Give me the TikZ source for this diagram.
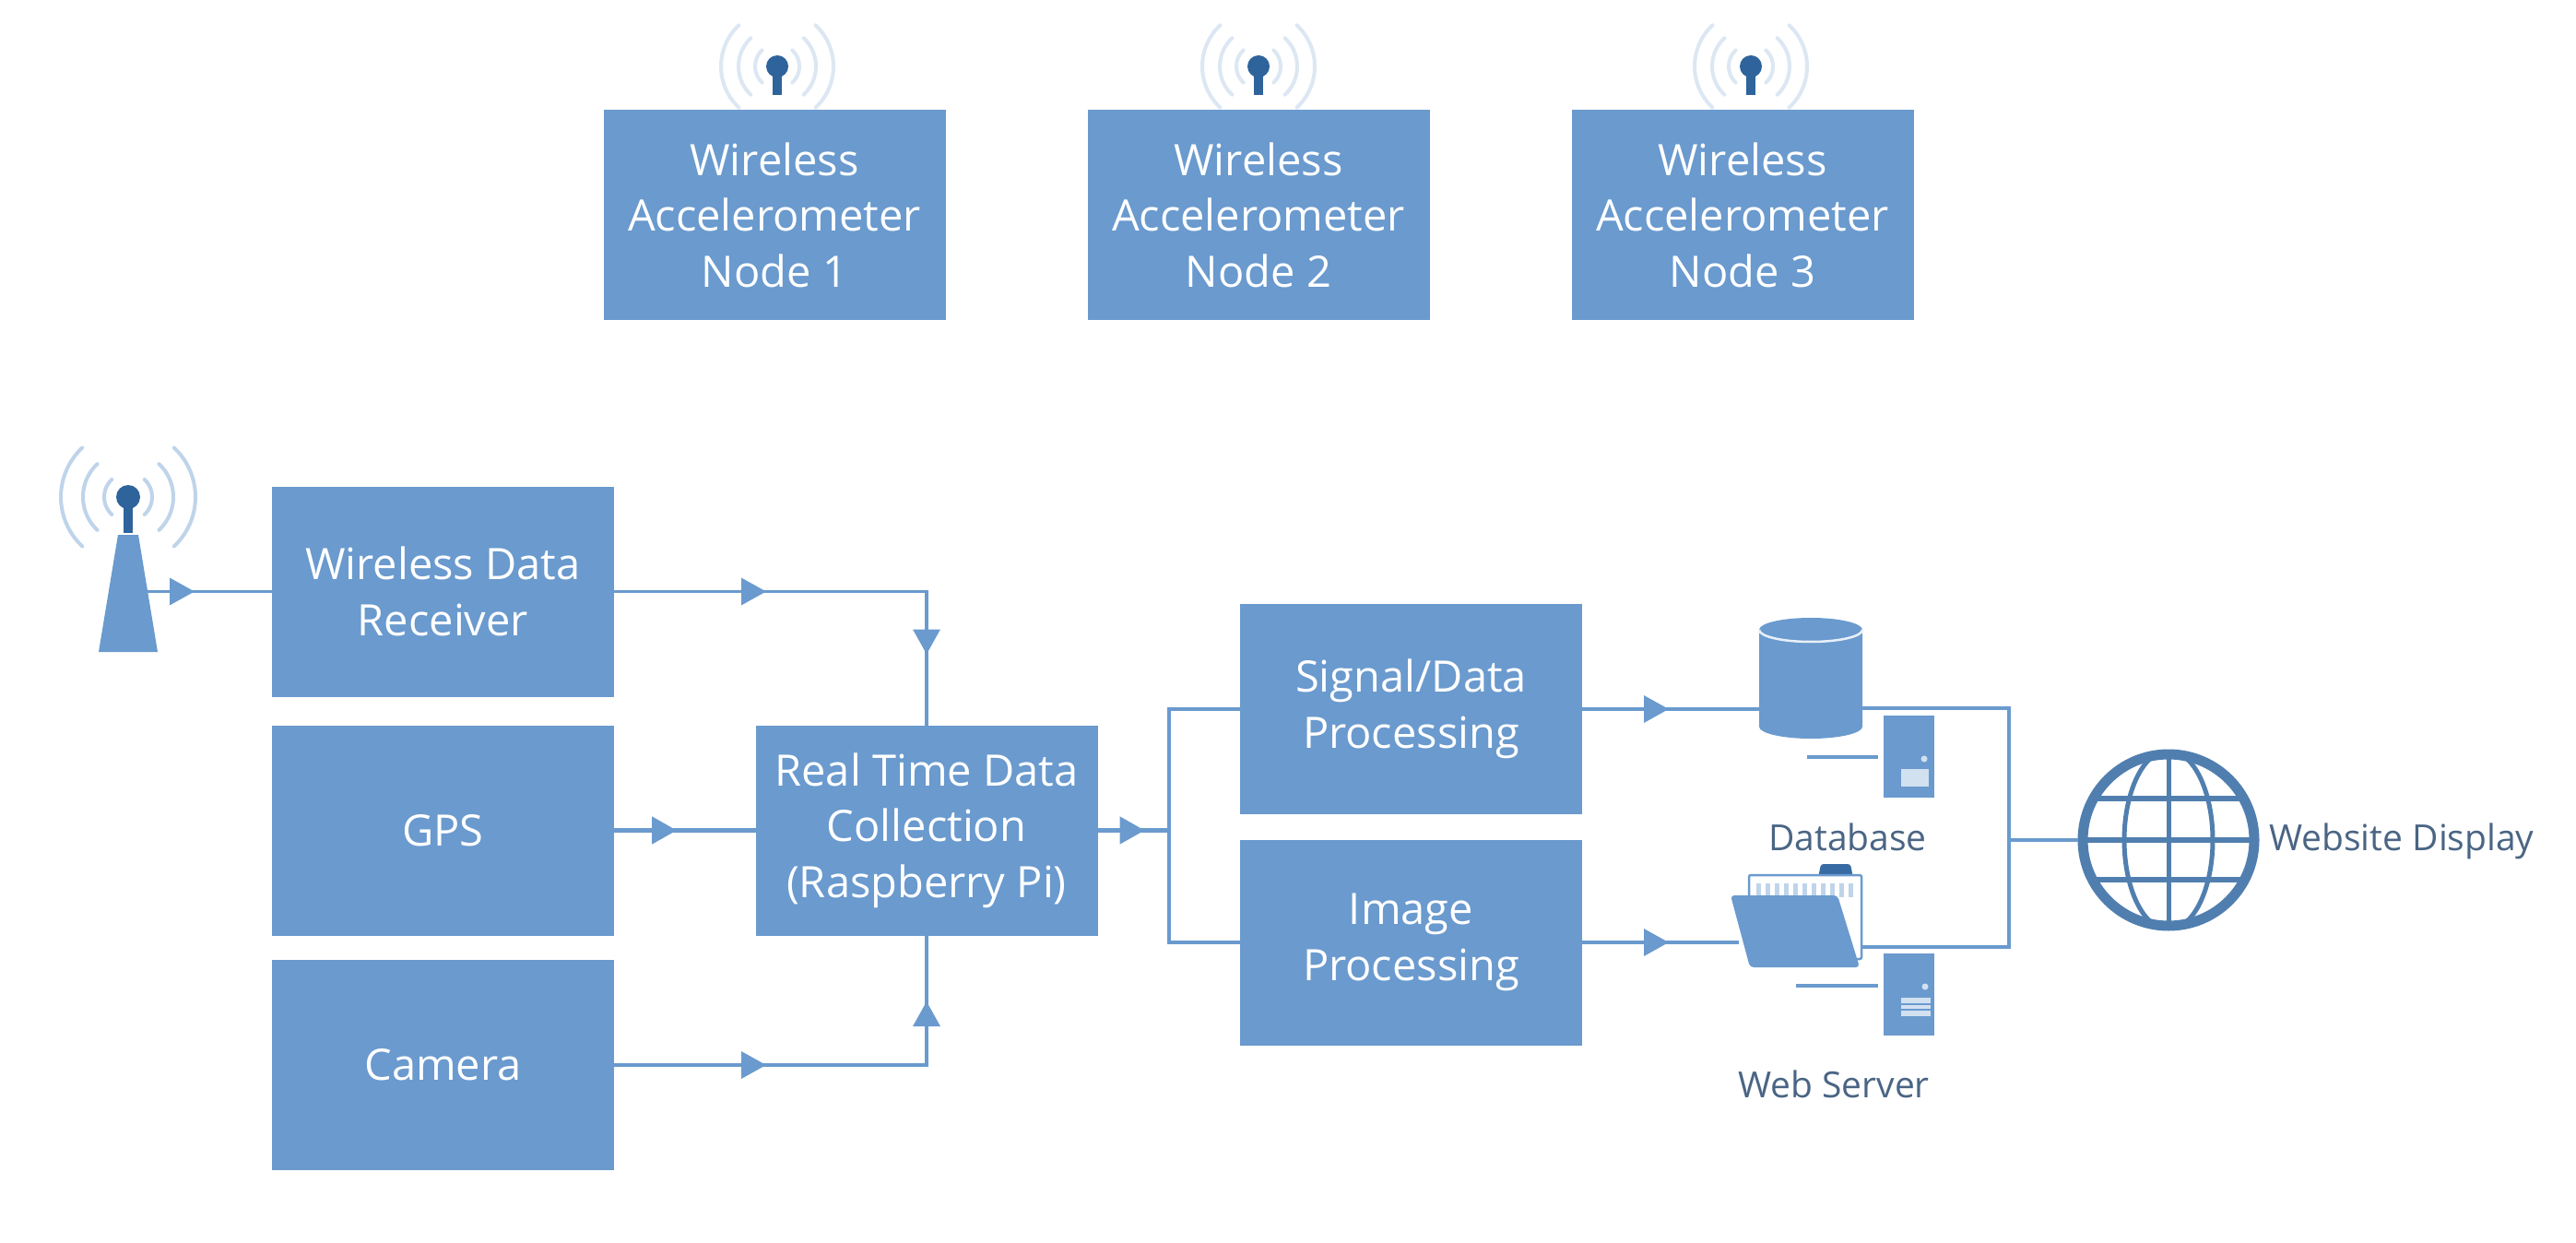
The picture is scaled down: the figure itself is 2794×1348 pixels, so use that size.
\documentclass[tikz,border=0pt]{standalone}
\usepackage{fontspec}
\setmainfont{Open Sans}
\usetikzlibrary{arrows.meta,decorations.markings,shapes.geometric}
\definecolor{boxblue}{HTML}{6A9ACE}
\definecolor{linkblue}{HTML}{6A9ACE}
\definecolor{darkblue}{HTML}{2F639B}
\definecolor{globeblue}{HTML}{507FAF}
\definecolor{labelblue}{HTML}{4A6584}
\definecolor{waveA}{HTML}{BFD4EA}
\definecolor{waveB}{HTML}{DCE7F3}
\tikzset{
  flowbox/.style={rectangle,fill=boxblue,text=white,inner sep=0pt,outer sep=0pt,minimum width=371pt,minimum height=228pt,align=center,font=\fontsize{47}{60.5}\selectfont},
  toplabel/.style={text=labelblue,inner sep=0pt,font=\fontsize{39}{44}\selectfont},
  link/.style={draw=linkblue,line width=3.5pt},
  boldlink/.style={draw=linkblue,line width=5pt},
  tipat/.style={postaction={decorate,decoration={markings,mark=at position #1 with {\arrow{Triangle[length=27pt,width=29pt]}}}}},
  serverbox/.style={rectangle,fill=boxblue,inner sep=0pt,outer sep=0pt,minimum width=55pt,minimum height=89pt},
  stub/.style={draw=linkblue,line width=3.5pt,shorten >=6pt},
}
\newcommand{\waves}[6]{% x y r1 r2 r3 colour
  \foreach \rr in {#3,#4,#5}{
    \draw[#6,line width=4pt,line cap=round] (#1,#2) ++(-47:\rr) arc[start angle=-47,end angle=47,radius=\rr pt];
    \draw[#6,line width=4pt,line cap=round] (#1,#2) ++(133:\rr) arc[start angle=133,end angle=227,radius=\rr pt];
  }}
\newcommand{\mast}[4]{% x y head-radius stem-bottom
  \fill[darkblue] (#1,#2) circle[radius=#3 pt];
  \fill[darkblue] (#1-5,#2) rectangle (#1+5,#4);}
\begin{document}
\begin{tikzpicture}[x=1pt,y=1pt]
\useasboundingbox (0,0) rectangle (2794,-1348);
\fill[white] (0,0) rectangle (2794,-1348);

% wireless nodes
\waves{843}{-72}{24}{42}{61}{waveB}\mast{843}{-72}{12}{-103}
\waves{1365}{-72}{24}{42}{61}{waveB}\mast{1365}{-72}{12}{-103}
\waves{1899}{-72}{24}{42}{61}{waveB}\mast{1899}{-72}{12}{-103}
\node[flowbox] (n1) at (840,-233) {Wireless\\Accelerometer\\Node 1};
\node[flowbox] (n2) at (1365,-233) {Wireless\\Accelerometer\\Node 2};
\node[flowbox] (n3) at (1890,-233) {Wireless\\Accelerometer\\Node 3};

% left column
\node[flowbox] (wdr) at (480.5,-641.5) {Wireless Data\\Receiver};
\node[flowbox] (gps) at (480.5,-900.5) {GPS};
\node[flowbox] (cam) at (480.5,-1155) {Camera};
\node[flowbox] (rt) at (1005,-900.5) {Real Time Data\\Collection\\(Raspberry Pi)};
\node[flowbox] (sig) at (1530.5,-769) {Signal/Data\\Processing};
\node[flowbox,minimum height=223pt] (img) at (1530.5,-1022) {Image\\Processing};

% tower
\waves{139}{-539}{26}{49}{73}{waveA}
\mast{139}{-539}{13}{-578}
\fill[boxblue] (128,-580) -- (150,-580) -- (171,-707) -- (107,-707) -- cycle;
\coordinate (towerout) at (158,-641.5);
\draw[link,tipat=53pt] (towerout) -- (wdr.west);

% links into the collector
\draw[link,tipat=165pt,tipat=407pt] (wdr.east) -| (rt.north);
\draw[boldlink,tipat=68pt] (gps.east) -- (rt.west);
\draw[link,tipat=165pt,tipat=408pt] (cam.east) -| (rt.south);
\coordinate (split) at (1268,-900.5);
\draw[boldlink,tipat=51pt] (rt.east) -- (split);
\draw[link] (sig.west) -| (split) |- (img.west);

% database
\node[inner sep=0pt,outer sep=0pt,minimum width=112pt,minimum height=131pt] (db) at (1964,-735.5) {};
\fill[boxblue] (1908,-683) arc[start angle=180,end angle=0,x radius=56pt,y radius=13pt] -- (2020,-788) arc[start angle=0,end angle=-180,x radius=56pt,y radius=13pt] -- cycle;
\draw[white!85!boxblue,line width=2.5pt] (1908,-683) arc[start angle=180,end angle=360,x radius=56pt,y radius=13pt];
\node[serverbox] (s1) at (2070.5,-820.5) {};
\fill[white!70!boxblue] (2062,-834) rectangle (2092,-853);
\fill[white!70!boxblue] (2087,-823) circle[radius=3.5pt];
\coordinate (s1free) at (1960,-821);
\draw[stub] (s1free) -- (s1.west |- s1free);
\node[toplabel] (dbl) at (2004,-908) {Database};

% web server folder
\node[inner sep=0pt,outer sep=0pt,minimum width=140pt,minimum height=112pt] (folder) at (1947,-993) {};
\fill[darkblue!85!boxblue,rounded corners=3pt] (1972,-952) -- (1975,-937) -- (2007,-937) -- (2010,-952) -- cycle;
\draw[boxblue,fill=white,line width=2.5pt,rounded corners=2pt] (1897,-949) rectangle (2019,-1040);
\draw[waveA,line width=15pt,dash pattern=on 5pt off 5pt] (1905,-965) -- (2012,-965);
\fill[boxblue,rounded corners=4pt] (1877,-971) -- (1993,-971) -- (2017,-1049) -- (1898,-1049) -- cycle;
\node[serverbox] (s2) at (2070.5,-1078.5) {};
\fill[white!70!boxblue] (2062,-1082) rectangle (2094,-1102);
\draw[boxblue,line width=2pt] (2062,-1089) -- (2094,-1089) (2062,-1095) -- (2094,-1095);
\fill[white!70!boxblue] (2088,-1070) circle[radius=3.5pt];
\coordinate (s2free) at (1948,-1069);
\draw[stub] (s2free) -- (s2.west |- s2free);
\node[toplabel] (wsl) at (1989,-1176) {Web Server};

% links from processing
\draw[link,tipat=94pt] (sig.east) -- (sig.east -| db.west);
\coordinate (imgin) at (1886,-1022);
\draw[link,tipat=94pt] (img.east) -- (imgin);

% globe
\node[circle,draw=globeblue,line width=11pt,minimum size=186pt,inner sep=0pt,outer sep=5.5pt] (globe) at (2352,-911) {};
\begin{scope}
\clip (globe.center) circle[radius=95pt];
\draw[globeblue,line width=5pt] (globe.center) ellipse[x radius=48pt,y radius=97pt];
\draw[globeblue,line width=5pt] (globe.north) -- (globe.south);
\draw[globeblue,line width=6pt] (2250,-866) -- (2450,-866) (2250,-911) -- (2450,-911) (2250,-954) -- (2450,-954);
\end{scope}
\node[toplabel,anchor=west] (wd) at (2461,-912) {Website Display};

% bus to the website
\coordinate (bus) at (2179,-911);
\coordinate (dbout) at (2020,-768);
\coordinate (fout) at (2019,-1027);
\draw[link] (dbout) -| (bus) |- (fout);
\draw[link] (bus) -- (globe.west);
\end{tikzpicture}
\end{document}
